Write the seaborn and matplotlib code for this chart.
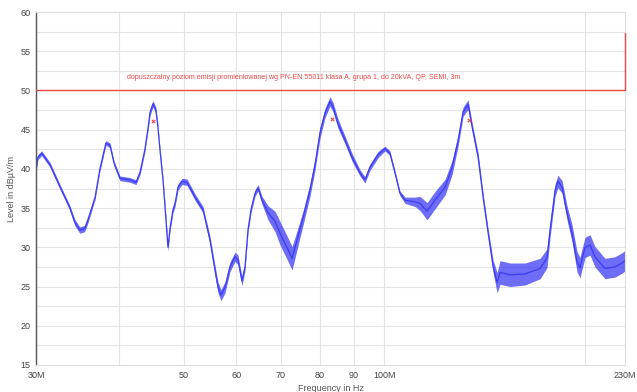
import matplotlib
matplotlib.use("Agg")
import matplotlib.pyplot as plt
from matplotlib.ticker import FixedLocator, NullLocator, MultipleLocator
import pandas as pd
import seaborn as sns

# --- data (frequency in MHz, level in dBuV/m) ---
freq_mhz = [30.0, 30.2, 30.6, 31.5, 32.6, 33.7, 34.3, 34.9, 35.5, 35.9, 36.8, 37.4,
            38.2, 38.75, 39.3, 40.1, 41.5, 42.4, 43.0, 43.7, 44.2, 44.5, 44.96, 45.4,
            45.7, 46.06, 46.54, 46.87, 47.35, 47.68, 48.18, 48.52, 49.03, 49.71, 50.58,
            51.99, 53.45, 54.76, 55.71, 56.29, 56.88, 57.67, 58.67, 59.7, 60.32, 61.16,
            61.8, 62.44, 63.1, 63.98, 64.65, 65.55, 66.93, 68.57, 69.76, 71.72, 72.72,
            73.98, 75.52, 77.37, 78.72, 80.09, 81.49, 82.91, 83.78, 85.23, 87.32, 89.46,
            91.97, 93.57, 95.2, 97.87, 100.27, 102.0, 103.8, 105.6, 107.5, 111.3, 113.2,
            116.0, 119.2, 123.5, 126.5, 129.2, 131.4, 133.7, 135.6, 138.4, 140.8, 143.3,
            145.8, 147.8, 149.3, 154.6, 162.8, 171.5, 175.6, 177.5, 180.6, 182.4, 185.0,
            188.2, 191.5, 194.8, 196.8, 200.3, 203.8, 207.3, 214.6, 222.1, 227.6, 230.0]
level = [39.8, 41.5, 42.0, 40.5, 37.7, 35.1, 33.2, 32.2, 32.4, 33.5, 36.4, 39.9,
         43.3, 43.0, 40.7, 38.8, 38.6, 38.3, 39.6, 42.4, 45.2, 47.2, 48.3, 47.5,
         45.6, 42.4, 38.6, 35.1, 30.0, 32.4, 34.8, 35.6, 37.7, 38.4, 38.3,
         36.4, 34.8, 30.9, 27.1, 24.9, 23.9, 24.9, 27.5, 28.8, 28.4, 25.7,
         27.5, 32.2, 34.8, 36.9, 37.6, 36.0, 34.4, 33.3, 31.8, 29.7, 28.6,
         30.9, 33.7, 37.3, 40.5, 44.6, 47.1, 48.6, 47.9, 45.8, 43.7, 41.5,
         39.5, 38.6, 40.2, 41.8, 42.6, 42.0, 39.5, 36.9, 36.0, 35.8, 35.6,
         34.6, 36.0, 37.7, 40.2, 43.7, 47.3, 48.2, 45.3, 41.5, 36.4, 31.8,
         27.5, 25.5, 26.8, 26.5, 26.6, 27.3, 28.6, 32.2, 37.3, 38.4, 37.7,
         34.4, 31.8, 28.2, 27.4, 30.0, 30.3, 28.8, 27.3, 27.5, 28.0, 28.3]
# half width of the noise band around the trace
noise = [0.3, 0.3, 0.3, 0.3, 0.3, 0.3, 0.4, 0.4, 0.4, 0.4, 0.3, 0.3,
         0.3, 0.3, 0.3, 0.3, 0.3, 0.3, 0.3, 0.3, 0.3, 0.4, 0.4, 0.4,
         0.3, 0.3, 0.3, 0.4, 0.5, 0.4, 0.4, 0.4, 0.4, 0.4, 0.4,
         0.4, 0.4, 0.5, 0.6, 0.7, 0.7, 0.7, 0.6, 0.6, 0.6, 0.6,
         0.5, 0.4, 0.4, 0.4, 0.4, 0.5, 0.9, 1.3, 1.5, 1.5, 1.5,
         1.2, 0.9, 0.8, 0.7, 0.7, 0.6, 0.6, 0.6, 0.6, 0.5, 0.5,
         0.4, 0.4, 0.4, 0.4, 0.3, 0.3, 0.3, 0.3, 0.4, 0.6, 0.9,
         1.1, 1.1, 1.0, 0.9, 0.7, 0.6, 0.6, 0.5, 0.5, 0.5, 0.5,
         0.8, 1.3, 1.5, 1.5, 1.4, 1.3, 1.2, 0.9, 0.8, 0.8, 0.8,
         0.9, 1.1, 1.3, 1.3, 1.3, 1.3, 1.3, 1.3, 1.3, 1.3, 1.3]

limit_freq = [30.0, 230.0, 230.0]
limit_level = [50.0, 50.0, 57.3]
limit_text = ("dopuszczalny poziom emisji promieniowanej wg PN-EN 55011 klasa A, grupa 1, "
              "do 20kVA, QP, SEMI, 3m")

peak_freq = [45.0, 83.4, 134.1]
peak_level = [46.1, 46.4, 46.2]

x_ticks = [30, 40, 50, 60, 70, 80, 90, 100, 200, 230]
x_labels = ["30M", "", "50", "60", "70", "80", "90", "100M", "", "230M"]

# ─── Style ──────────────────────────────────────────────────────────────────
sns.set_theme(style="whitegrid")
plt.rcParams.update({
    "font.family": ["Liberation Sans", "DejaVu Sans"],
    "grid.color": "#e4e4e4",
    "grid.linewidth": 0.8,
})
TRACE = "#3c3cf5"
LIMIT = "#f04848"

df = pd.DataFrame({"freq": freq_mhz, "level": level, "noise": noise})

fig = plt.figure(figsize=(6.37, 3.92), dpi=100)
ax = fig.add_axes([36 / 637, 1 - 365 / 392, (625 - 36) / 637, (365 - 12) / 392])

ax.fill_between(df["freq"], df["level"] - df["noise"], df["level"] + df["noise"],
                color=TRACE, alpha=0.75, linewidth=0)
sns.lineplot(data=df, x="freq", y="level", ax=ax, color=TRACE, linewidth=0.9,
             sort=False, estimator=None)

# limit line, the step at 230M sits on the right frame edge
ax.plot(limit_freq, limit_level, color=LIMIT, linewidth=1.0, clip_on=False, zorder=6)
ax.text(41.1, 51.6, limit_text, color=LIMIT, fontsize=5.15, va="center", ha="left")
ax.scatter(peak_freq, peak_level, marker="x", color=LIMIT, s=6, linewidths=0.8, zorder=5)

ax.set_xscale("log")
ax.set_xlim(30, 230)
ax.set_ylim(15, 60)
ax.xaxis.set_major_locator(FixedLocator(x_ticks))
ax.xaxis.set_minor_locator(NullLocator())
ax.set_xticklabels(x_labels)
ax.yaxis.set_major_locator(MultipleLocator(5))
ax.yaxis.set_minor_locator(MultipleLocator(2.5))
ax.grid(True, which="both", axis="y", color="#e4e4e4", linewidth=0.8)
ax.grid(True, which="major", axis="x", color="#e4e4e4", linewidth=0.8)

ax.tick_params(axis="both", which="both", labelsize=6.5, colors="#555555",
               labelcolor="#444444")
ax.tick_params(axis="y", which="major", direction="inout", length=4, width=0.8, pad=2)
ax.tick_params(axis="y", which="minor", direction="inout", length=3, width=0.8)
ax.tick_params(axis="x", which="major", direction="in", length=2, width=0.8, pad=4)

for side in ["top", "right", "bottom"]:
    ax.spines[side].set_color("#e0e0e0")
    ax.spines[side].set_linewidth(0.8)
ax.spines["left"].set_color("#555555")
ax.spines["left"].set_linewidth(1.0)

ax.set_xlabel("Frequency in Hz", fontsize=6.5, color="#555555", labelpad=3)
ax.set_ylabel("Level in dBµV/m", fontsize=6.5, color="#555555", labelpad=3)

fig.savefig("out.png", dpi=100, facecolor="white")
